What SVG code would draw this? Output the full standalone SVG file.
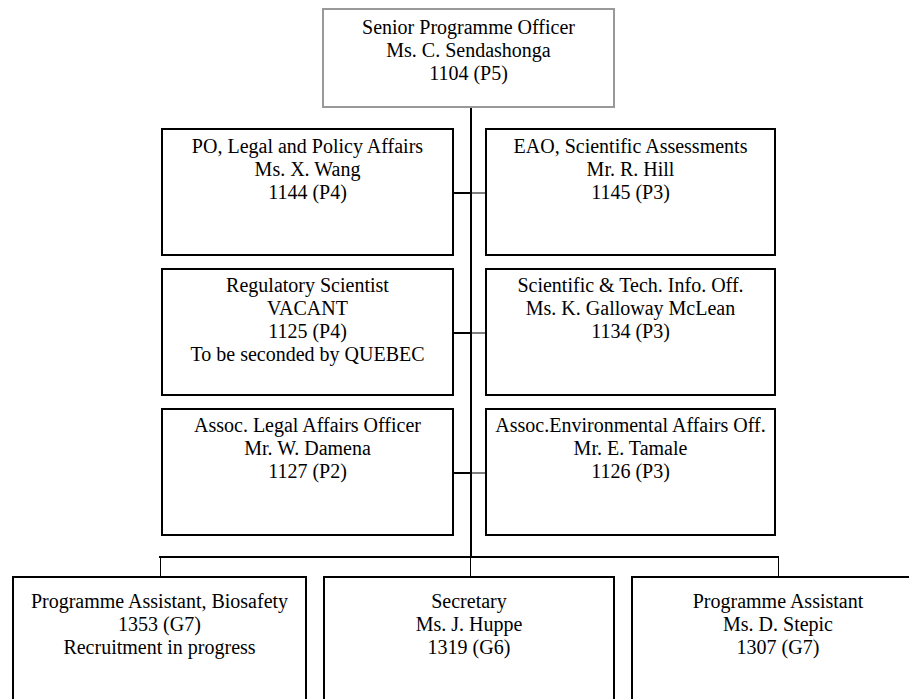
<svg xmlns="http://www.w3.org/2000/svg" width="909" height="699" viewBox="0 0 909 699">
<style>
.box{fill:#fff;stroke:#000;stroke-width:2}
.top{fill:#fff;stroke:#999;stroke-width:2}
.t{font-family:"Liberation Serif","Times New Roman",serif;font-size:20px;fill:#000;text-anchor:middle}
.c{stroke:#000;stroke-width:2;fill:none}
.c1{stroke:#000;stroke-width:1;fill:none}
</style>
<rect width="909" height="699" fill="#fff"/>
<g id="connectors">
<line class="c" x1="471" y1="107" x2="471" y2="557"/>
<line class="c" x1="453" y1="193" x2="471" y2="193"/>
<line class="c1" x1="471" y1="193" x2="486" y2="193"/>
<line class="c" x1="453" y1="333" x2="471" y2="333"/>
<line class="c1" x1="471" y1="333" x2="486" y2="333"/>
<line class="c" x1="453" y1="473" x2="471" y2="473"/>
<line class="c1" x1="471" y1="473" x2="486" y2="473"/>
<line class="c" x1="159" y1="557" x2="779" y2="557"/>
<line class="c1" x1="160.5" y1="557" x2="160.5" y2="577"/>
<line class="c1" x1="470.5" y1="557" x2="470.5" y2="577"/>
<line class="c1" x1="778.5" y1="557" x2="778.5" y2="577"/>
</g>
<g id="n-senior">
<rect class="top" x="323" y="9" width="291" height="98"/>
<text class="t"><tspan x="468.5" y="34">Senior Programme Officer</tspan><tspan x="468.5" y="57">Ms. C. Sendashonga</tspan><tspan x="468.5" y="80">1104 (P5)</tspan></text>
</g>
<g id="n-po-legal">
<rect class="box" x="162" y="129" width="291" height="126"/>
<text class="t"><tspan x="307.5" y="153">PO, Legal and Policy Affairs</tspan><tspan x="307.5" y="176">Ms. X. Wang</tspan><tspan x="307.5" y="199">1144 (P4)</tspan></text>
</g>
<g id="n-eao">
<rect class="box" x="486" y="129" width="289" height="126"/>
<text class="t"><tspan x="630.5" y="153">EAO, Scientific Assessments</tspan><tspan x="630.5" y="176">Mr. R. Hill</tspan><tspan x="630.5" y="199">1145 (P3)</tspan></text>
</g>
<g id="n-regulatory">
<rect class="box" x="162" y="269" width="291" height="126"/>
<text class="t"><tspan x="307.5" y="292">Regulatory Scientist</tspan><tspan x="307.5" y="315">VACANT</tspan><tspan x="307.5" y="338">1125 (P4)</tspan><tspan x="307.5" y="361">To be seconded by QUEBEC</tspan></text>
</g>
<g id="n-sti">
<rect class="box" x="486" y="269" width="289" height="126"/>
<text class="t"><tspan x="630.5" y="292">Scientific &amp; Tech. Info. Off.</tspan><tspan x="630.5" y="315">Ms. K. Galloway McLean</tspan><tspan x="630.5" y="338">1134 (P3)</tspan></text>
</g>
<g id="n-assoc-legal">
<rect class="box" x="162" y="409" width="291" height="126"/>
<text class="t"><tspan x="307.5" y="432">Assoc. Legal Affairs Officer</tspan><tspan x="307.5" y="455">Mr. W. Damena</tspan><tspan x="307.5" y="478">1127 (P2)</tspan></text>
</g>
<g id="n-assoc-env">
<rect class="box" x="486" y="409" width="289" height="126"/>
<text class="t"><tspan x="630.5" y="432">Assoc.Environmental Affairs Off.</tspan><tspan x="630.5" y="455">Mr. E. Tamale</tspan><tspan x="630.5" y="478">1126 (P3)</tspan></text>
</g>
<g id="n-pa-biosafety">
<rect class="box" x="13" y="577" width="293" height="140"/>
<text class="t"><tspan x="159.5" y="608">Programme Assistant, Biosafety</tspan><tspan x="159.5" y="631">1353 (G7)</tspan><tspan x="159.5" y="654">Recruitment in progress</tspan></text>
</g>
<g id="n-secretary">
<rect class="box" x="324" y="577" width="290" height="140"/>
<text class="t"><tspan x="469" y="608">Secretary</tspan><tspan x="469" y="631">Ms. J. Huppe</tspan><tspan x="469" y="654">1319 (G6)</tspan></text>
</g>
<g id="n-pa">
<rect class="box" x="632" y="577" width="293" height="140"/>
<text class="t"><tspan x="778" y="608">Programme Assistant</tspan><tspan x="778" y="631">Ms. D. Stepic</tspan><tspan x="778" y="654">1307 (G7)</tspan></text>
</g>
</svg>
